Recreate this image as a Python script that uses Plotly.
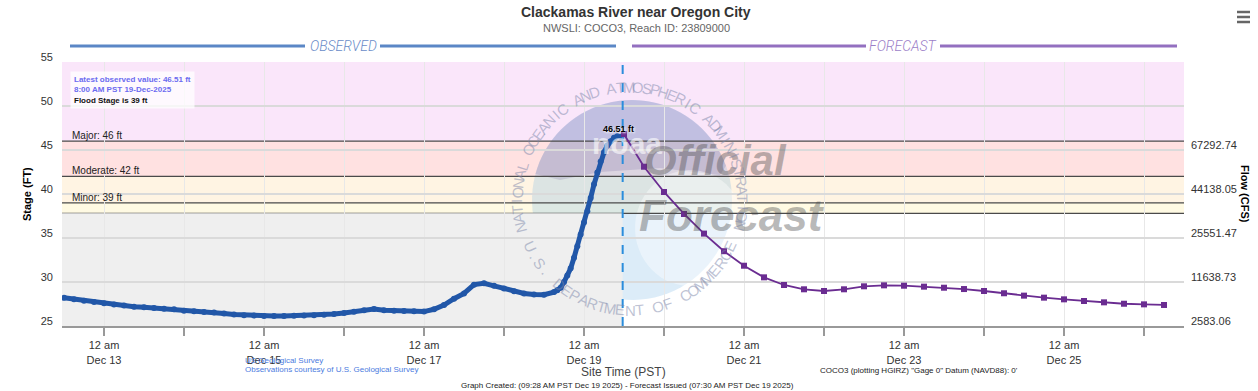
import numpy as np
import pandas as pd
import plotly.graph_objects as go

# ---------------- data ----------------
obs_time_3h = pd.date_range("2025-12-12 12:00", "2025-12-18 15:00", freq="3h")
obs_stage_3h = [
    28.2, 28.05, 27.87, 27.72,
    27.58, 27.45, 27.32, 27.2, 27.12, 27.05, 26.97, 26.9,
    26.73, 26.68, 26.6, 26.52, 26.42, 26.31, 26.23, 26.18,
    26.15, 26.13, 26.14, 26.16, 26.18, 26.22, 26.27, 26.36,
    26.48, 26.62, 26.78, 26.92, 26.78, 26.74, 26.71, 26.68,
    26.64, 26.9, 27.38, 28.1, 28.7, 29.7, 29.85, 29.56,
    29.25, 28.95, 28.7, 28.57, 28.55, 28.85,
]
obs_time_1h = pd.date_range("2025-12-18 16:00", "2025-12-19 11:00", freq="1h")
obs_stage_1h = [
    29.05, 29.35, 30.0, 30.75, 31.55, 32.75, 34.05, 35.4,
    36.75, 38.05, 39.55, 41.1, 42.45, 43.7, 44.75, 45.5, 46.0, 46.38, 46.55, 46.51,
]
obs_time = list(obs_time_3h) + list(obs_time_1h)
obs_stage = obs_stage_3h + obs_stage_1h

fcst_time = pd.date_range("2025-12-19 12:00", periods=28, freq="6h")
fcst_stage = [
    46.8, 43.1, 40.23, 37.73, 35.5, 33.5, 31.85, 30.53, 29.66, 29.17,
    28.98, 29.17, 29.51, 29.62, 29.58, 29.47, 29.35, 29.2, 28.98, 28.72,
    28.45, 28.22, 28.03, 27.84, 27.69, 27.53, 27.46, 27.39,
]

now_time = "2025-12-19 11:36"
x_range = ["2025-12-12 11:24", "2025-12-26 12:00"]

stage_ticks = [25, 30, 35, 40, 45, 50, 55]
flow_tickvals = [25, 30, 35, 40, 45]
flow_ticktext = ["2583.06", "11638.73", "25551.47", "44138.05", "67292.74"]

major_stage, moderate_stage, minor_stage, action_stage = 46, 42, 39, 37.8
y_range = [25, 55]

day_ticks = pd.date_range("2025-12-13", "2025-12-26", freq="D")
day_labels = [f"12 am<br>Dec {d.day}" if d.day % 2 == 1 else "" for d in day_ticks]

# ---------------- layout geometry helpers (decoration only) ----------------
L, R, T, B = 62, 74, 62, 65
W, H = 1258, 391
PW, PH = W - L - R, H - T - B


def px(x):
    return (x - L) / PW


def py(y):
    return (H - B - y) / PH


FONT = "Liberation Sans, Arial, sans-serif"

fig = go.Figure()

fig.add_trace(go.Scatter(
    x=obs_time, y=obs_stage, mode="lines+markers",
    line=dict(color="#2157a8", width=5),
    marker=dict(color="#2157a8", size=6),
    hoverinfo="x+y", showlegend=False,
))
fig.add_trace(go.Scatter(
    x=list(fcst_time), y=fcst_stage, mode="lines+markers",
    line=dict(color="#6a2c91", width=1.8),
    marker=dict(color="#6a2c91", size=6, symbol="square"),
    showlegend=False,
))
# invisible trace to activate the flow axis
fig.add_trace(go.Scatter(
    x=[obs_time[0]], y=[obs_stage[0]], yaxis="y2", mode="markers",
    marker=dict(opacity=0), hoverinfo="skip", showlegend=False,
))

shapes = []
# flood category bands
bands = [
    (major_stage, y_range[1], "#fae6fa"),
    (moderate_stage, major_stage, "#ffe1e1"),
    (minor_stage, moderate_stage, "#fff4e3"),
    (action_stage, minor_stage, "#fffae3"),
]
for y0, y1, c in bands:
    shapes.append(dict(type="rect", xref="paper", x0=0, x1=1, yref="y", y0=y0, y1=y1,
                       fillcolor=c, line_width=0, layer="below"))
shapes.append(dict(type="rect", xref="x", x0=x_range[0], x1=now_time, yref="y",
                   y0=y_range[0], y1=action_stage, fillcolor="#efefef", line_width=0, layer="below"))

# NOAA-like watermark
cx, cy = 632, 200
th = np.linspace(0, 2 * np.pi, 90)
disc = "M " + " L ".join(f"{px(cx + 100*np.cos(t)):.4f},{py(cy - 100*np.sin(t)):.4f}" for t in th) + " Z"
shapes.append(dict(type="path", path=disc, xref="paper", yref="paper",
                   fillcolor="rgba(120,180,228,0.26)", line_width=0, layer="between"))
th2 = np.linspace(np.radians(165), np.radians(20), 40)
cap_pts = [(cx + 100*np.cos(t), cy - 100*np.sin(t)) for t in th2]
cap_pts += [(720, 175), (660, 168), (600, 172), (560, 180)]
cap = "M " + " L ".join(f"{px(a):.4f},{py(b):.4f}" for a, b in cap_pts) + " Z"
shapes.append(dict(type="path", path=cap, xref="paper", yref="paper",
                   fillcolor="rgba(105,90,150,0.2)", line_width=0, layer="between"))
th3 = np.linspace(0, 2 * np.pi, 60)
gull = "M " + " L ".join(f"{px(690 + 55*np.cos(t)):.4f},{py(228 - 58*np.sin(t)):.4f}" for t in th3) + " Z"
shapes.append(dict(type="path", path=gull, xref="paper", yref="paper",
                   fillcolor="rgba(255,255,255,0.4)", line_width=0, layer="between"))

# flood lines
for s in [major_stage, moderate_stage, minor_stage, action_stage]:
    shapes.append(dict(type="line", xref="paper", x0=0, x1=1, yref="y", y0=s, y1=s,
                       line=dict(color="#4a4a4a", width=1.3), layer="between"))
# now line
shapes.append(dict(type="line", xref="x", x0=now_time, x1=now_time, yref="paper", y0=0, y1=1,
                   line=dict(color="#2a8ddc", width=2, dash="dash"), layer="above"))

# header lines
obs_c, fc_c = "#5b87c6", "#9370c0"
for x0, x1, c in [(70, 305, obs_c), (380, 616, obs_c), (632, 866, fc_c), (940, 1177, fc_c)]:
    shapes.append(dict(type="line", xref="paper", yref="paper", x0=px(x0), x1=px(x1),
                       y0=py(46), y1=py(46), line=dict(color=c, width=3)))
# hamburger menu
for yy in [12, 17, 22]:
    shapes.append(dict(type="line", xref="paper", yref="paper", x0=px(1237), x1=px(1250),
                       y0=py(yy), y1=py(yy), line=dict(color="#666666", width=2.5)))

ann = []


def A(text, x, y, size, color="#333333", xanchor="center", yanchor="middle", family=FONT, **kw):
    d = dict(text=text, xref="paper", yref="paper", x=px(x), y=py(y), showarrow=False,
             xanchor=xanchor, yanchor=yanchor, font=dict(family=family, size=size, color=color))
    font_extra = kw.pop("font_extra", None)
    if font_extra:
        d["font"].update(font_extra)
    d.update(kw)
    ann.append(d)


# watermark text
A("<b>noaa</b>", 627, 143, 30, "rgba(255,255,255,0.6)")
A("<b><i>Official</i></b>", 715, 160, 42, "rgba(70,70,70,0.38)")
A("<b><i>Forecast</i></b>", 732, 215, 44, "rgba(70,70,70,0.38)")
LETTER_C = "rgba(125,135,170,0.5)"
top_txt = "NATIONAL OCEANIC AND ATMOSPHERIC ADMINISTRATION"
for ch, a in zip(top_txt, np.linspace(194, -13, len(top_txt))):
    if ch == " ":
        continue
    r = np.radians(a)
    A(ch, 630 + 113*np.cos(r), 200 - 113*np.sin(r), 15, LETTER_C, textangle=90 - a)
bot_txt = "U.S. DEPARTMENT OF COMMERCE"
for ch, a in zip(bot_txt, np.linspace(-155, -25, len(bot_txt))):
    if ch == " ":
        continue
    r = np.radians(a)
    A(ch, 630 + 110*np.cos(r), 200 - 110*np.sin(r), 15, LETTER_C, textangle=-(a + 90))

# titles
A("<b>Clackamas River near Oregon City</b>", 636, 12, 14, "#333333")
A("NWSLI: COCO3, Reach ID: 23809000", 636, 28, 11, "#666666")
A("OBSERVED", 343, 46, 14, "#6a8cc8", family="Roboto", font_extra=dict(style="italic", weight=300))
A("FORECAST", 903, 46, 14, "#9c7ec8", family="Roboto", font_extra=dict(style="italic", weight=300))

# info box
A("<b><span style='color:#6b6bf0'>Latest observed value: 46.51 ft<br>8:00 AM PST 19-Dec-2025</span>"
  "<br>Flood Stage is 39 ft</b>", 70, 71, 8, "#111111", xanchor="left", yanchor="top",
  align="left", bgcolor="rgba(255,255,255,0.75)", borderpad=3)

# flood category labels
for lab, s in [("Major: 46 ft", major_stage), ("Moderate: 42 ft", moderate_stage), ("Minor: 39 ft", minor_stage)]:
    ann.append(dict(text=lab, xref="paper", yref="y", x=px(70), y=s, xanchor="left", yanchor="bottom",
                    showarrow=False, yshift=-2, font=dict(family=FONT, size=10, color="#222222")))

# peak label
ann.append(dict(text="<b>46.51 ft</b>", xref="x", yref="y", x=obs_time[-1], y=obs_stage[-1],
                xanchor="center", yanchor="bottom", showarrow=False, yshift=1, xshift=-2,
                font=dict(family=FONT, size=9, color="#000000", shadow="1px 1px 2px white")))

# axis titles
A("<b>Stage (FT)</b>", 27, 194, 11, "#000000", textangle=-90)
A("<b>Flow (CFS)</b>", 1245, 194, 11, "#000000", textangle=90)
A("Site Time (PST)", 623, 372, 12, "#444444")

# footers
A("US Geological Survey", 243, 360, 8, "#4b7be0", xanchor="left")
A("Observations courtesy of U.S. Geological Survey", 243, 369, 8, "#4b7be0", xanchor="left")
A("COCO3 (plotting HGIRZ) \"Gage 0\" Datum (NAVD88): 0'", 818, 370.5, 8, "#222222", xanchor="left")
A("Graph Created: (09:28 AM PST Dec 19 2025) - Forecast Issued (07:30 AM PST Dec 19 2025)",
  627, 385.5, 8, "#222222")

fig.update_layout(
    width=W, height=H,
    margin=dict(l=L, r=R, t=T, b=B),
    paper_bgcolor="white", plot_bgcolor="white",
    showlegend=False,
    font=dict(family=FONT, size=11, color="#333333"),
    shapes=shapes, annotations=ann,
    xaxis=dict(type="date", range=x_range, tickvals=list(day_ticks), ticktext=day_labels,
               showgrid=True, gridcolor="#e8e8e8", gridwidth=1,
               ticks="outside", ticklen=8, tickcolor="#999999", tickwidth=1.5,
               showline=True, linecolor="#999999", linewidth=2,
               tickfont=dict(size=11, color="#333333"), zeroline=False, fixedrange=True),
    yaxis=dict(range=y_range, tickvals=stage_ticks, showgrid=True, gridcolor="#dadada", gridwidth=1.5,
               zeroline=False, ticks="", ticklabelshift=-5, ticklabelstandoff=8,
               tickfont=dict(size=11, color="#333333"), fixedrange=True),
    yaxis2=dict(range=y_range, overlaying="y", side="right", tickvals=flow_tickvals, ticktext=flow_ticktext,
                showgrid=False, zeroline=False, ticks="", ticklabelshift=-5, ticklabelstandoff=6,
                tickfont=dict(size=11, color="#333333"), fixedrange=True),
)

fig.write_html("out.html", config={"displayModeBar": False},
               post_script="document.body.style.margin='0';document.body.style.overflow='hidden';")
